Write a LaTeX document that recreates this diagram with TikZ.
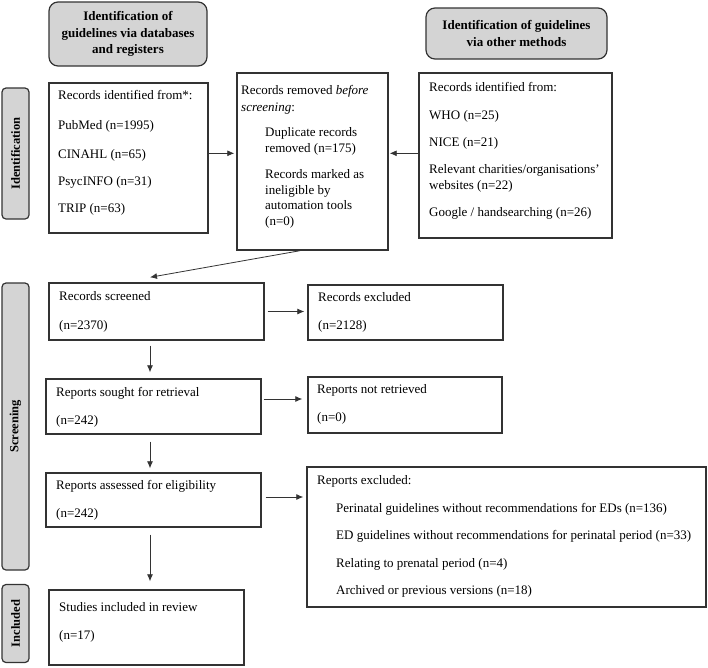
\documentclass[tikz,border=0pt]{standalone}
\usepackage{fontspec}
\usepackage{graphicx}
\setmainfont{Liberation Serif}
\usetikzlibrary{arrows.meta,calc}
\definecolor{edge}{HTML}{333333}
\definecolor{hdr}{HTML}{D4D4D4}
\begin{document}
\begin{tikzpicture}[x=1pt,y=-1pt,
 box/.style={draw=edge,line width=1.4pt,inner sep=0pt,rectangle},
 hdrbox/.style={draw=edge,line width=1.2pt,fill=hdr,rounded corners=9pt,inner sep=0pt,align=center,font=\fontsize{13}{16.5}\selectfont\bfseries},
 sidebox/.style={draw=edge,line width=1.2pt,fill=hdr,rounded corners=4pt,inner sep=0pt,font=\fontsize{12.5}{14}\selectfont\bfseries},
 txt/.style={font=\fontsize{13}{15}\selectfont,inner sep=0pt,anchor=west,text height=9pt,text depth=3pt},
 arr/.style={draw=edge,line width=0.8pt,-{Latex[length=7pt,width=6pt]}}]
\useasboundingbox (0,0) rectangle (708,667);

% headers
\node[hdrbox,minimum width=158pt,minimum height=64pt] (h1) at (128,34) {Identification of\\guidelines via databases\\and registers};
\node[hdrbox,minimum width=181pt,minimum height=51pt] (h2) at (516.5,33.5) {Identification of guidelines\\via other methods};

% side labels
\node[sidebox,minimum width=27pt,minimum height=131pt] (sid) at (15.5,153.5) {\rotatebox{90}{Identification}};
\node[sidebox,minimum width=27pt,minimum height=287pt] (ssc) at (15.5,426.5) {\rotatebox{90}{Screening}};
\node[sidebox,minimum width=27pt,minimum height=78pt] (sin) at (15.5,623.5) {\rotatebox{90}{Included}};

% boxes
\node[box,minimum width=159pt,minimum height=150pt] (ri) at (128.5,158) {};
\node[box,minimum width=151pt,minimum height=177pt] (rr) at (312.5,161.5) {};
\node[box,minimum width=193pt,minimum height=165pt] (om) at (515.5,155.5) {};
\node[box,minimum width=215pt,minimum height=57pt] (rs) at (156.5,311.5) {};
\node[box,minimum width=195pt,minimum height=55pt] (re) at (405.5,312.5) {};
\node[box,minimum width=215pt,minimum height=55pt] (so) at (153.5,406.5) {};
\node[box,minimum width=194pt,minimum height=56pt] (nr) at (405,405) {};
\node[box,minimum width=215pt,minimum height=54pt] (ra) at (153.5,500) {};
\node[box,minimum width=399pt,minimum height=140pt] (rx) at (506.5,537) {};
\node[box,minimum width=195pt,minimum height=75pt] (si) at (146.5,627.5) {};

% texts: records identified
\node[txt] (ri1) at (58,96.7) {Records identified from*:};
\node[txt] (ri2) at (58,126.7) {PubMed (n=1995)};
\node[txt] (ri3) at (58,155) {CINAHL (n=65)};
\node[txt] (ri4) at (58,182.7) {PsycINFO (n=31)};
\node[txt] (ri5) at (58,209.3) {TRIP (n=63)};
% records removed
\node[txt] (rr1) at (241,91.7) {Records removed \textit{before}};
\node[txt] (rr2) at (241,108.3) {\textit{screening}:};
\node[txt] (rr3) at (265,133.3) {Duplicate records};
\node[txt] (rr4) at (265,149.3) {removed (n=175)};
\node[txt] (rr5) at (265,175) {Records marked as};
\node[txt] (rr6) at (265,191) {ineligible by};
\node[txt] (rr7) at (265,206.7) {automation tools};
\node[txt] (rr8) at (265,222.7) {(n=0)};
% other methods
\node[txt] (om1) at (429,88.3) {Records identified from:};
\node[txt] (om2) at (429,116.7) {WHO (n=25)};
\node[txt] (om3) at (429,143.3) {NICE (n=21)};
\node[txt] (om4) at (429,170) {Relevant charities/organisations’};
\node[txt] (om5) at (429,186) {websites (n=22)};
\node[txt] (om6) at (429,213.3) {Google / handsearching (n=26)};
% screening
\node[txt] (rs1) at (59,297.3) {Records screened};
\node[txt] (rs2) at (59,326) {(n=2370)};
\node[txt] (re1) at (318,298.3) {Records excluded};
\node[txt] (re2) at (318,326.7) {(n=2128)};
\node[txt] (so1) at (56,393.3) {Reports sought for retrieval};
\node[txt] (so2) at (56,421.7) {(n=242)};
\node[txt] (nr1) at (317,390.7) {Reports not retrieved};
\node[txt] (nr2) at (317,418.3) {(n=0)};
\node[txt] (ra1) at (56,486.7) {Reports assessed for eligibility};
\node[txt] (ra2) at (56,514) {(n=242)};
\node[txt] (rx1) at (317,481.7) {Reports excluded:};
\node[txt] (rx2) at (336,509) {Perinatal guidelines without recommendations for EDs (n=136)};
\node[txt] (rx3) at (336,536.7) {ED guidelines without recommendations for perinatal period (n=33)};
\node[txt] (rx4) at (336,564) {Relating to prenatal period (n=4)};
\node[txt] (rx5) at (336,591.7) {Archived or previous versions (n=18)};
\node[txt] (si1) at (59,608.3) {Studies included in review};
\node[txt] (si2) at (59,636) {(n=17)};

% connectors
\draw[arr] ([yshift=4.7pt]ri.east) -- ([yshift=4.7pt,xshift=-2pt]ri.east -| rr.west);
\draw[arr] ([yshift=2.2pt]om.west) -- ([yshift=2.2pt,xshift=1pt]om.west -| rr.east);
\draw[arr] ([xshift=-12.5pt]rr.south) -- ([xshift=-6.5pt,yshift=5pt]rs.north);
\draw[arr] ([xshift=3pt]rs.east) -- ([xshift=-3pt]rs.east -| re.west);
\draw[arr] ([xshift=2pt,yshift=7.5pt]so.east) -- ([xshift=-5pt,yshift=7.5pt]so.east -| nr.west);
\draw[arr] ([xshift=4pt,yshift=3pt]ra.east) -- ([xshift=-3pt,yshift=3pt]ra.east -| rx.west);
\draw[arr] ([xshift=-6.5pt,yshift=-5pt]rs.south) -- ([xshift=-3.5pt,yshift=6pt]so.north);
\draw[arr] ([xshift=-3.5pt,yshift=-7pt]so.south) -- ([xshift=-3.5pt,yshift=4pt]ra.north);
\draw[arr] ([xshift=-3.5pt,yshift=-7pt]ra.south) -- ([xshift=-3.5pt,yshift=8pt]ra.south |- si.north);
\end{tikzpicture}
\end{document}
